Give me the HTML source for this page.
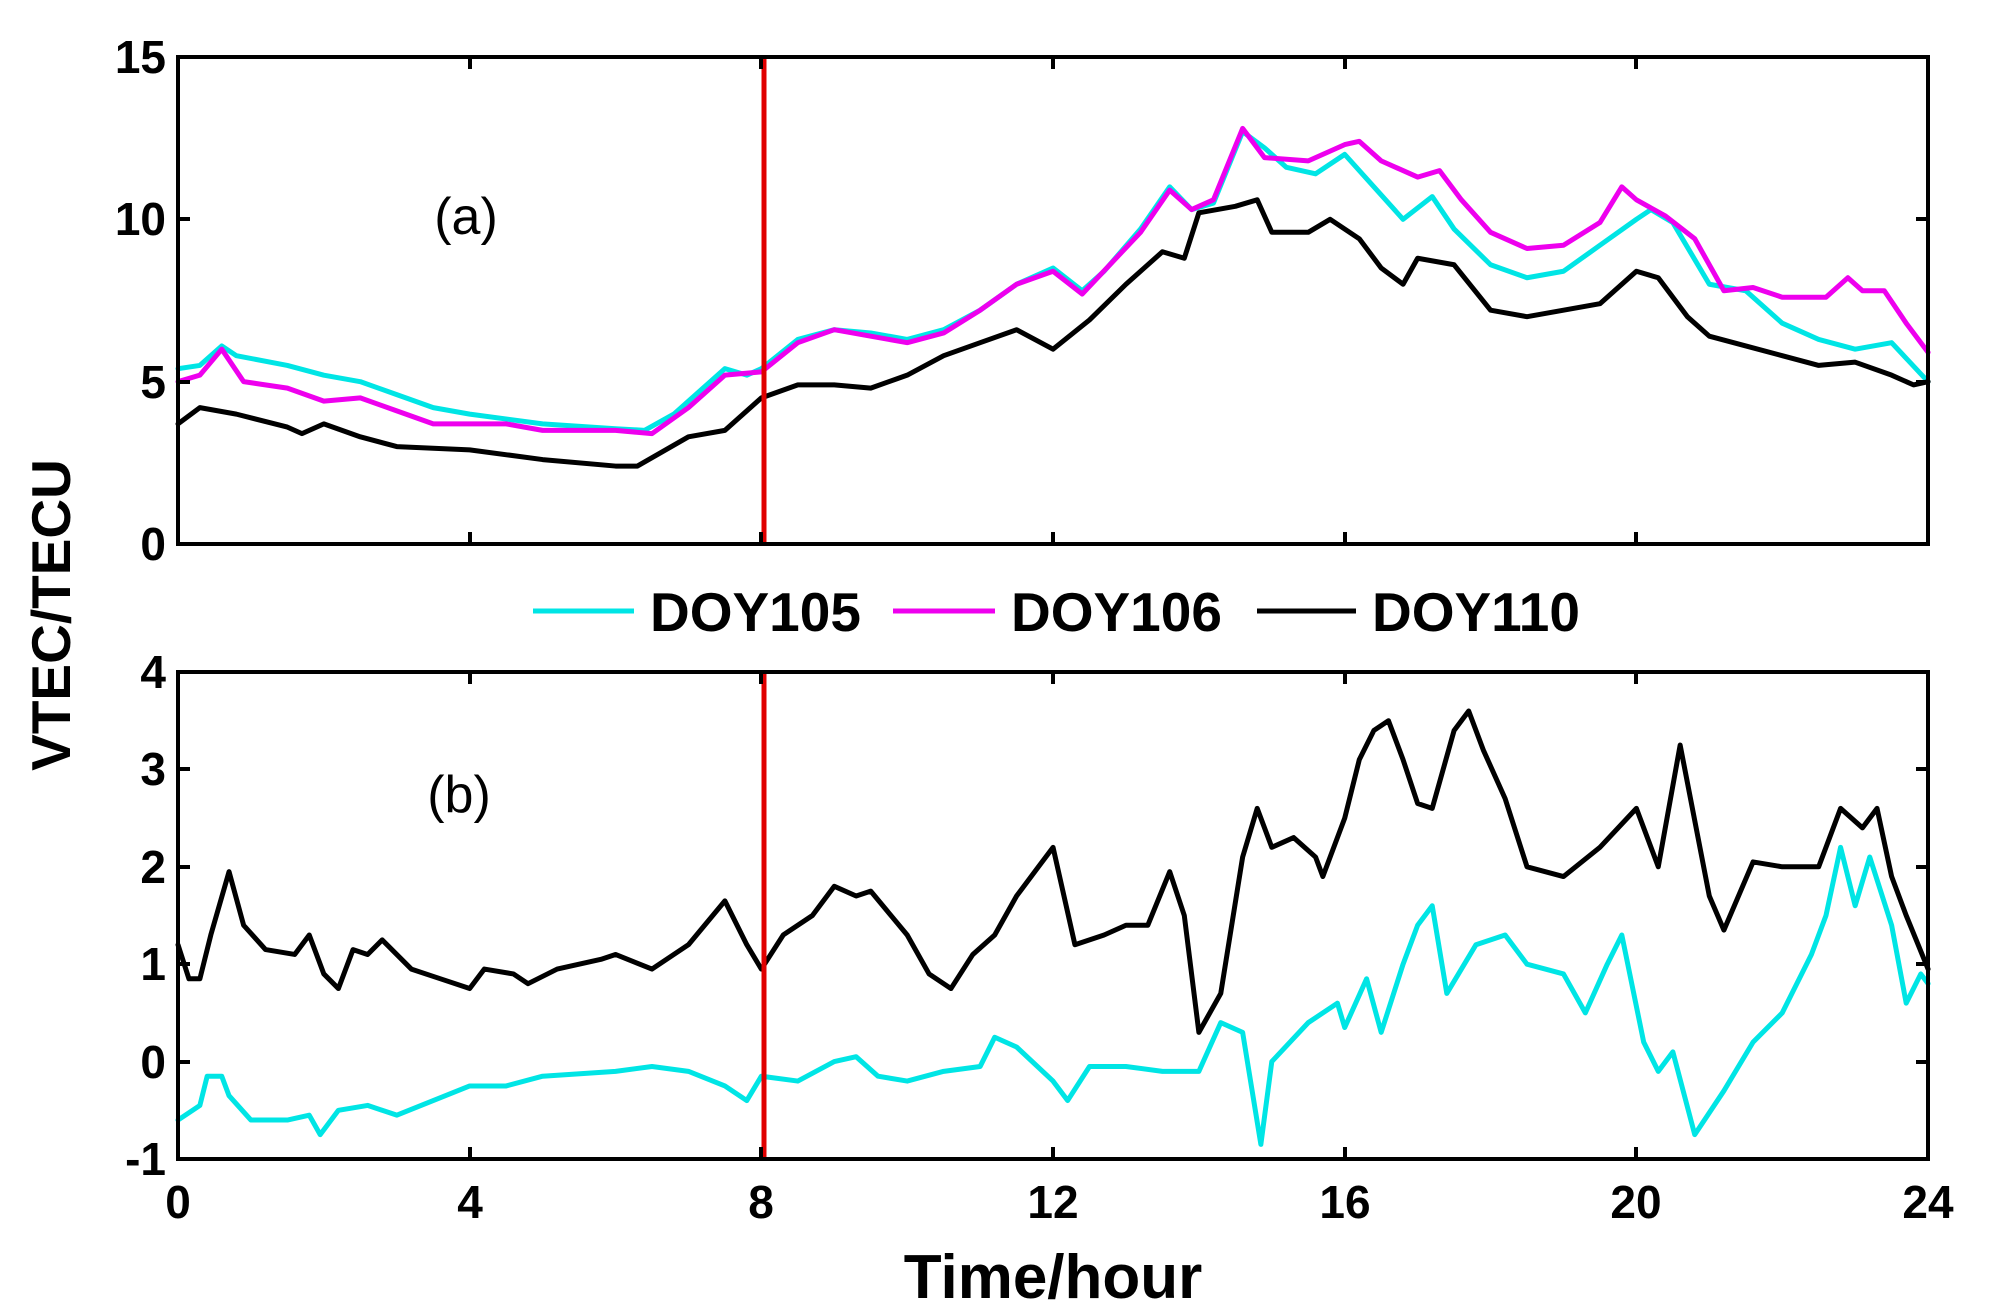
<!DOCTYPE html>
<html><head><meta charset="utf-8"><style>html,body{margin:0;padding:0;background:#fff}svg{display:block}</style></head>
<body>
<svg width="1991" height="1315" viewBox="0 0 1991 1315" xmlns="http://www.w3.org/2000/svg" font-family="Liberation Sans, Arial, sans-serif">
<rect width="1991" height="1315" fill="#fff"/>
<g fill="none" stroke-linejoin="round" stroke-linecap="round">
<g transform="matrix(72.92 0 0 -32.47 178 544)">
<polyline vector-effect="non-scaling-stroke" stroke="#00e5e5" stroke-width="5" points="0,5.4 0.3,5.5 0.6,6.1 0.8,5.8 1.5,5.5 2,5.2 2.5,5.0 3,4.6 3.5,4.2 4,4.0 5,3.7 6,3.55 6.4,3.5 6.8,4.0 7.2,4.8 7.5,5.4 7.8,5.2 8,5.4 8.5,6.3 9,6.6 9.5,6.5 10,6.3 10.5,6.6 11,7.2 11.5,8.0 12,8.5 12.4,7.8 12.7,8.4 13.2,9.7 13.6,11.0 13.9,10.3 14.2,10.5 14.6,12.7 14.9,12.2 15.2,11.6 15.6,11.4 16,12.0 16.4,11.0 16.8,10.0 17.2,10.7 17.5,9.7 18,8.6 18.5,8.2 19,8.4 19.5,9.2 20,10.0 20.2,10.3 20.5,9.9 21,8.0 21.5,7.8 22,6.8 22.5,6.3 23,6.0 23.5,6.2 24,5.0"/>
<polyline vector-effect="non-scaling-stroke" stroke="#ee00ee" stroke-width="5" points="0,5.0 0.3,5.2 0.6,6.0 0.9,5.0 1.5,4.8 2,4.4 2.5,4.5 3,4.1 3.5,3.7 4,3.7 4.5,3.7 5,3.5 6,3.5 6.5,3.4 7,4.2 7.5,5.2 8,5.3 8.5,6.2 9,6.6 9.5,6.4 10,6.2 10.5,6.5 11,7.2 11.5,8.0 12,8.4 12.4,7.7 13.2,9.6 13.6,10.9 13.9,10.3 14.2,10.6 14.6,12.8 14.9,11.9 15.5,11.8 16,12.3 16.2,12.4 16.5,11.8 17,11.3 17.3,11.5 17.6,10.6 18,9.6 18.5,9.1 19,9.2 19.5,9.9 19.8,11.0 20,10.6 20.4,10.1 20.8,9.4 21.2,7.8 21.6,7.9 22,7.6 22.6,7.6 22.9,8.2 23.1,7.8 23.4,7.8 23.7,6.8 24,5.9"/>
<polyline vector-effect="non-scaling-stroke" stroke="#000" stroke-width="5" points="0,3.7 0.3,4.2 0.8,4.0 1.5,3.6 1.7,3.4 2,3.7 2.5,3.3 3,3.0 4,2.9 5,2.6 6,2.4 6.3,2.4 7,3.3 7.5,3.5 8,4.5 8.5,4.9 9,4.9 9.5,4.8 10,5.2 10.5,5.8 11,6.2 11.5,6.6 12,6.0 12.5,6.9 13,8.0 13.5,9.0 13.8,8.8 14,10.2 14.5,10.4 14.8,10.6 15,9.6 15.5,9.6 15.8,10.0 16.2,9.4 16.5,8.5 16.8,8.0 17,8.8 17.5,8.6 18,7.2 18.5,7.0 19,7.2 19.5,7.4 20,8.4 20.3,8.2 20.7,7.0 21,6.4 21.5,6.1 22,5.8 22.5,5.5 23,5.6 23.5,5.2 23.8,4.9 24,5.0"/>
</g>
<g transform="matrix(72.92 0 0 -97.4 178 1061.6)">
<polyline vector-effect="non-scaling-stroke" stroke="#00e5e5" stroke-width="5" points="0,-0.6 0.3,-0.45 0.4,-0.15 0.6,-0.15 0.7,-0.35 1,-0.6 1.5,-0.6 1.8,-0.55 1.95,-0.75 2.2,-0.5 2.6,-0.45 3,-0.55 3.5,-0.4 4,-0.25 4.5,-0.25 5,-0.15 6,-0.1 6.5,-0.05 7,-0.1 7.5,-0.25 7.8,-0.4 8,-0.15 8.5,-0.2 9,0 9.3,0.05 9.6,-0.15 10,-0.2 10.5,-0.1 11,-0.05 11.2,0.25 11.5,0.15 12,-0.2 12.2,-0.4 12.5,-0.05 13,-0.05 13.5,-0.1 14,-0.1 14.3,0.4 14.6,0.3 14.85,-0.85 15,0 15.5,0.4 15.9,0.6 16,0.35 16.3,0.85 16.5,0.3 16.8,1.0 17,1.4 17.2,1.6 17.4,0.7 17.8,1.2 18.2,1.3 18.5,1.0 19,0.9 19.3,0.5 19.6,1.0 19.8,1.3 20.1,0.2 20.3,-0.1 20.5,0.1 20.8,-0.75 21.2,-0.3 21.6,0.2 22,0.5 22.4,1.1 22.6,1.5 22.8,2.2 23,1.6 23.2,2.1 23.5,1.4 23.7,0.6 23.9,0.9 24,0.8"/>
<polyline vector-effect="non-scaling-stroke" stroke="#000" stroke-width="5" points="0,1.2 0.15,0.85 0.3,0.85 0.45,1.3 0.7,1.95 0.9,1.4 1.2,1.15 1.6,1.1 1.8,1.3 2,0.9 2.2,0.75 2.4,1.15 2.6,1.1 2.8,1.25 3.2,0.95 3.6,0.85 4,0.75 4.2,0.95 4.6,0.9 4.8,0.8 5.2,0.95 5.8,1.05 6,1.1 6.5,0.95 7,1.2 7.5,1.65 7.8,1.2 8,0.95 8.3,1.3 8.7,1.5 9,1.8 9.3,1.7 9.5,1.75 10,1.3 10.3,0.9 10.6,0.75 10.9,1.1 11.2,1.3 11.5,1.7 11.8,2.0 12,2.2 12.3,1.2 12.7,1.3 13,1.4 13.3,1.4 13.6,1.95 13.8,1.5 14,0.3 14.3,0.7 14.6,2.1 14.8,2.6 15,2.2 15.3,2.3 15.6,2.1 15.7,1.9 16,2.5 16.2,3.1 16.4,3.4 16.6,3.5 16.8,3.1 17,2.65 17.2,2.6 17.5,3.4 17.7,3.6 17.9,3.2 18.2,2.7 18.5,2.0 19,1.9 19.5,2.2 20,2.6 20.3,2.0 20.6,3.25 21,1.7 21.2,1.35 21.6,2.05 22,2.0 22.5,2.0 22.8,2.6 23.1,2.4 23.3,2.6 23.5,1.9 23.7,1.5 24,0.95"/>
</g>
</g>
<g stroke="#e00000" stroke-width="5"><line x1="764" y1="57" x2="764" y2="544"/><line x1="764" y1="672" x2="764" y2="1159"/></g>
<g stroke="#000" stroke-width="4" fill="none">
<rect x="178" y="57" width="1750" height="487"/>
<rect x="178" y="672" width="1750" height="487"/>
<path d="M470,57v12M761,57v12M1053,57v12M1345,57v12M1636,57v12M470,544v-12M761,544v-12M1053,544v-12M1345,544v-12M1636,544v-12
M178,219h12M178,382h12M1928,219h-12M1928,382h-12
M470,672v12M761,672v12M1053,672v12M1345,672v12M1636,672v12M470,1159v-12M761,1159v-12M1053,1159v-12M1345,1159v-12M1636,1159v-12
M178,769h12M178,867h12M178,964h12M178,1062h12M1928,769h-12M1928,867h-12M1928,964h-12M1928,1062h-12"/>
</g>
<g font-weight="bold" font-size="46" text-anchor="end" fill="#000">
<text x="166" y="73">15</text><text x="166" y="235">10</text><text x="166" y="398">5</text><text x="166" y="560">0</text>
<text x="166" y="688">4</text><text x="166" y="785">3</text><text x="166" y="883">2</text><text x="166" y="980">1</text><text x="166" y="1078">0</text><text x="166" y="1175">-1</text>
</g>
<g font-weight="bold" font-size="46" text-anchor="middle" fill="#000">
<text x="178" y="1218">0</text><text x="470" y="1218">4</text><text x="761" y="1218">8</text><text x="1053" y="1218">12</text><text x="1345" y="1218">16</text><text x="1636" y="1218">20</text><text x="1928" y="1218">24</text>
</g>
<text x="1053" y="1298" font-size="62" font-weight="bold" text-anchor="middle">Time/hour</text>
<text x="0" y="0" font-weight="bold" font-size="55" text-anchor="middle" transform="translate(70 615) rotate(-90)">VTEC/TECU</text>
<text x="466" y="234" font-size="52" text-anchor="middle">(a)</text>
<text x="459" y="812" font-size="52" text-anchor="middle">(b)</text>
<g stroke-width="5"><line x1="533" y1="611" x2="634" y2="611" stroke="#00e5e5"/><line x1="893" y1="611" x2="995" y2="611" stroke="#ee00ee"/><line x1="1257" y1="611" x2="1356" y2="611" stroke="#000"/></g>
<g font-weight="bold" font-size="55" fill="#000"><text x="650" y="631">DOY105</text><text x="1011" y="631">DOY106</text><text x="1372" y="631">DOY110</text></g>
</svg>
</body></html>
